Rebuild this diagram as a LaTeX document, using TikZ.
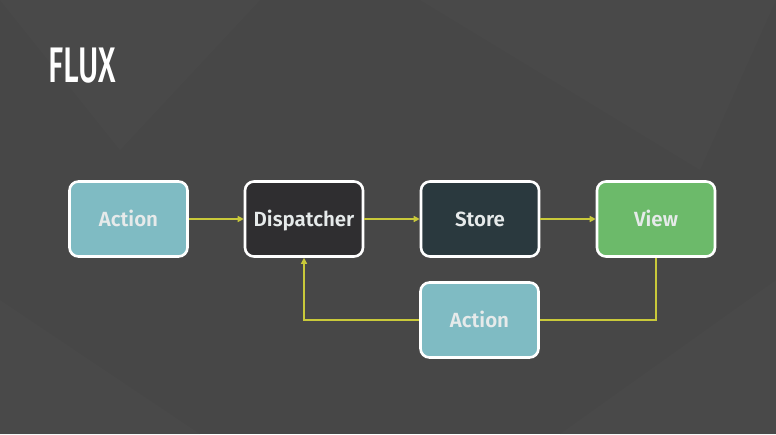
\documentclass[tikz,border=0pt]{standalone}
\usepackage{fontspec}
\setmainfont{Fira Sans}
\newfontfamily\boxfont{Fira Sans SemiBold}
\newfontfamily\titlefont{Fira Sans Medium}
\usetikzlibrary{arrows.meta}
\definecolor{bg}{HTML}{474747}
\definecolor{bgb}{HTML}{4E4E4E}
\definecolor{actfill}{HTML}{7FBBC3}
\definecolor{dispfill}{HTML}{2F2E30}
\definecolor{storefill}{HTML}{2A393E}
\definecolor{viewfill}{HTML}{6CBA6A}
\definecolor{link}{HTML}{C9C93A}
\definecolor{txt}{HTML}{E6EAEA}
\tikzset{
  fluxbox/.style={draw=white, line width=2.6pt, rounded corners=9pt,
    minimum width=118pt, minimum height=75pt, inner sep=0pt,
    text height=14pt, text depth=0pt,
    text=txt, font=\boxfont\fontsize{20.5}{23}\selectfont},
  link/.style={draw=link, line width=1.4pt},
  linkarrow/.style={link, -{Triangle[length=6pt,width=6pt]}}
}
\begin{document}
\begin{tikzpicture}[x=1pt,y=-1pt]
\fill[bg] (0,0) rectangle (776,434);
\useasboundingbox (0,0) rectangle (776,434);
% faint background facets
\fill[bgb, opacity=0.35] (0,0) -- (260,0) -- (120,150) -- cycle;
\fill[bgb, opacity=0.3] (420,0) -- (776,0) -- (700,170) -- cycle;
\fill[bgb, opacity=0.3] (0,300) -- (200,434) -- (0,434) -- cycle;
\fill[bgb, opacity=0.3] (560,434) -- (776,280) -- (776,434) -- cycle;
\node[anchor=west, text=white, inner sep=0pt, font=\titlefont\fontsize{50}{50}\selectfont, xscale=0.62] (title) at (48,66) {FLUX};
\node[fluxbox, fill=actfill] (action) at (128.5,219) {Action};
\node[fluxbox, fill=dispfill] (disp) at (304,219) {Dispatcher};
\node[fluxbox, fill=storefill] (store) at (480,219) {Store};
\node[fluxbox, fill=viewfill] (view) at (656,219) {View};
\node[fluxbox, fill=actfill] (action2) at (479.5,320) {Action};
\draw[linkarrow] (action.east) -- (disp.west);
\draw[linkarrow] (disp.east) -- (store.west);
\draw[linkarrow] (store.east) -- (view.west);
\draw[link] (view.south) |- (action2.east);
\draw[linkarrow] (action2.west) -| (disp.south);
\end{tikzpicture}
\end{document}
